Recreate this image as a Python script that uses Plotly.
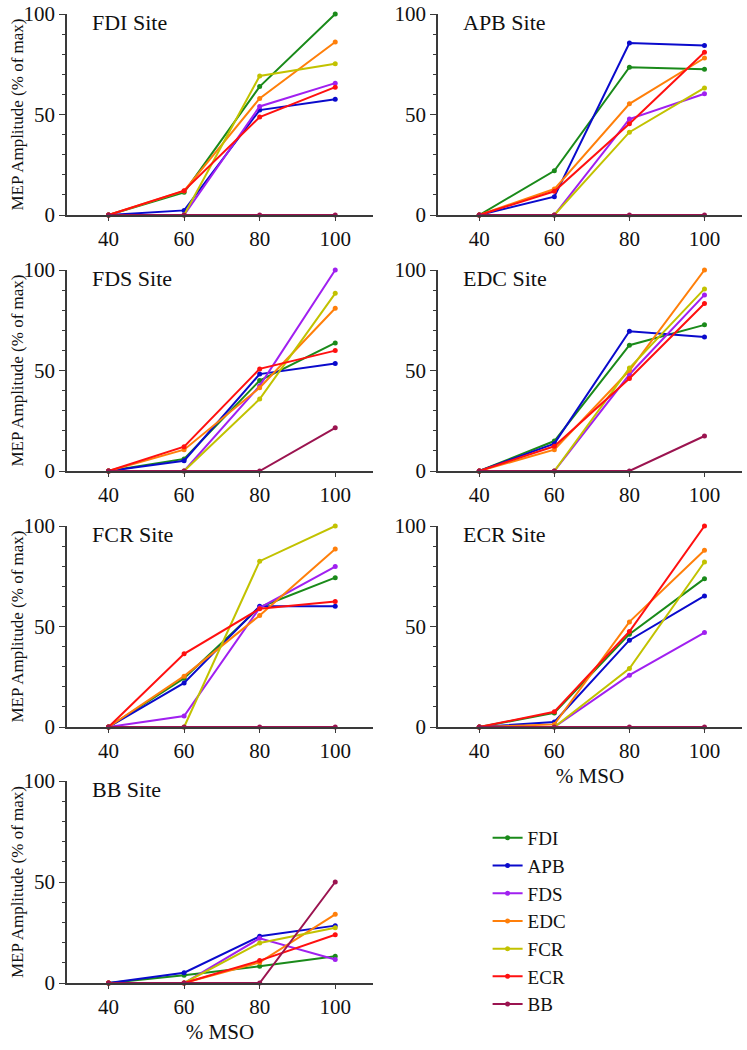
import plotly.graph_objects as go
from plotly.subplots import make_subplots

MSO = [40, 60, 80, 100]
MUSCLES = ["FDI", "APB", "FDS", "EDC", "FCR", "ECR", "BB"]
COLORS = {
    "FDI": "#1a8a1a",
    "APB": "#0a0acc",
    "FDS": "#a020f0",
    "EDC": "#ff7f0a",
    "FCR": "#c2c200",
    "ECR": "#ff1010",
    "BB": "#9b1450",
}

# MEP amplitude (% of max) per stimulation site, one list per recorded muscle
fdi_site = {
    "FDI": [0, 11.3, 63.9, 100],
    "APB": [0, 2.3, 52.2, 57.6],
    "FDS": [0, 0, 54.0, 65.6],
    "EDC": [0, 12.0, 58.0, 86.1],
    "FCR": [0, 0, 69.2, 75.2],
    "ECR": [0, 12.1, 48.7, 63.6],
    "BB": [0, 0, 0, 0],
}
apb_site = {
    "FDI": [0, 22.0, 73.5, 72.5],
    "APB": [0, 9.1, 85.6, 84.3],
    "FDS": [0, 0, 47.7, 60.3],
    "EDC": [0, 12.9, 55.3, 78.1],
    "FCR": [0, 0, 41.2, 63.2],
    "ECR": [0, 11.8, 45.4, 81.0],
    "BB": [0, 0, 0, 0],
}
fds_site = {
    "FDI": [0, 6.0, 45.0, 63.7],
    "APB": [0, 5.1, 48.2, 53.5],
    "FDS": [0, 0, 42.4, 100],
    "EDC": [0, 10.6, 41.4, 81.0],
    "FCR": [0, 0, 35.8, 88.4],
    "ECR": [0, 12.1, 50.8, 59.9],
    "BB": [0, 0, 0, 21.5],
}
edc_site = {
    "FDI": [0, 14.9, 62.6, 72.7],
    "APB": [0, 13.6, 69.5, 66.7],
    "FDS": [0, 0, 48.0, 87.6],
    "EDC": [0, 10.6, 50.0, 100],
    "FCR": [0, 0, 51.2, 90.6],
    "ECR": [0, 12.3, 46.0, 83.3],
    "BB": [0, 0, 0, 17.4],
}
fcr_site = {
    "FDI": [0, 24.3, 59.6, 74.3],
    "APB": [0, 21.9, 60.1, 60.1],
    "FDS": [0, 5.5, 59.3, 79.8],
    "EDC": [0, 25.3, 55.5, 88.6],
    "FCR": [0, 0, 82.5, 100],
    "ECR": [0, 36.4, 58.8, 62.4],
    "BB": [0, 0, 0, 0],
}
ecr_site = {
    "FDI": [0, 7.0, 46.2, 73.8],
    "APB": [0, 2.5, 43.2, 65.2],
    "FDS": [0, 0, 25.8, 47.0],
    "EDC": [0, 1.3, 52.3, 87.9],
    "FCR": [0, 0, 29.1, 82.1],
    "ECR": [0, 7.6, 47.5, 100],
    "BB": [0, 0, 0, 0],
}
bb_site = {
    "FDI": [0, 3.8, 8.3, 13.2],
    "APB": [0, 5.1, 23.1, 28.4],
    "FDS": [0, 0, 22.1, 11.6],
    "EDC": [0, 0, 10.2, 34.0],
    "FCR": [0, 0, 19.8, 27.4],
    "ECR": [0, 0, 11.1, 23.9],
    "BB": [0, 0, 0, 50.0],
}

SITES = [
    ("FDI Site", fdi_site),
    ("APB Site", apb_site),
    ("FDS Site", fds_site),
    ("EDC Site", edc_site),
    ("FCR Site", fcr_site),
    ("ECR Site", ecr_site),
    ("BB Site", bb_site),
]

FONT = "Liberation Serif, Times New Roman, serif"
W, H = 747, 1050


def px_x(p):
    return p / W


def px_y(p):
    return 1 - p / H


# panel boxes in pixels (left, right) / (top, bottom)
COL_PX = [(67, 373), (438, 742)]
ROW_PX = [(14, 215), (270, 471), (526, 727), (781, 983)]

fig = make_subplots(
    rows=4,
    cols=2,
    specs=[[{}, {}], [{}, {}], [{}, {}], [{}, None]],
)

for i, (site_name, site) in enumerate(SITES):
    row, col = i // 2 + 1, i % 2 + 1
    for muscle in MUSCLES:
        fig.add_trace(
            go.Scatter(
                x=MSO,
                y=site[muscle],
                mode="lines+markers",
                name=muscle,
                line=dict(color=COLORS[muscle], width=2),
                marker=dict(color=COLORS[muscle], size=5),
                cliponaxis=False,
                showlegend=(i == 0),
            ),
            row=row,
            col=col,
        )

    x0, x1 = COL_PX[col - 1]
    y0, y1 = ROW_PX[row - 1]
    show_xtitle = site_name in ("ECR Site", "BB Site")
    fig.update_xaxes(
        domain=[px_x(x0), px_x(x1)],
        range=[29, 110],
        automargin=False,
        tickvals=MSO,
        ticks="outside",
        ticklen=4,
        tickwidth=1.2,
        tickcolor="#3a3a3a",
        showline=True,
        linecolor="#3a3a3a",
        linewidth=1.5,
        showgrid=False,
        zeroline=False,
        tickfont=dict(family=FONT, size=21, color="#111"),
        title=dict(
            text="% MSO" if show_xtitle else "",
            font=dict(family=FONT, size=21, color="#111"),
            standoff=6,
        ),
        row=row,
        col=col,
    )
    fig.update_yaxes(
        domain=[px_y(y1), px_y(y0)],
        range=[0, 100],
        automargin=False,
        tickvals=[0, 50, 100],
        ticks="outside",
        ticklen=6,
        tickwidth=1.2,
        tickcolor="#3a3a3a",
        minor=dict(dtick=10, ticks="outside", ticklen=3, tickwidth=1, tickcolor="#3a3a3a"),
        showline=True,
        linecolor="#3a3a3a",
        linewidth=1.5,
        showgrid=False,
        zeroline=False,
        tickfont=dict(family=FONT, size=21, color="#111"),
        row=row,
        col=col,
    )
    fig.add_annotation(
        text=site_name,
        xref="x domain" if i == 0 else f"x{i + 1} domain",
        yref="y domain" if i == 0 else f"y{i + 1} domain",
        x=0.075,
        y=0.96,
        xanchor="left",
        yanchor="middle",
        showarrow=False,
        font=dict(family=FONT, size=22, color="#111"),
    )
    if col == 1:
        fig.add_annotation(
            text="MEP Amplitude (% of max)",
            xref="paper",
            yref="paper",
            x=px_x(17),
            y=px_y((y0 + y1) / 2),
            xanchor="center",
            yanchor="middle",
            textangle=-90,
            showarrow=False,
            font=dict(family=FONT, size=17, color="#111"),
        )

fig.update_layout(
    width=W,
    height=H,
    margin=dict(l=0, r=0, t=0, b=0),
    plot_bgcolor="white",
    paper_bgcolor="white",
    font=dict(family=FONT, color="#111"),
    legend=dict(
        x=px_x(487.6),
        y=px_y(819),
        xanchor="left",
        yanchor="top",
        font=dict(family=FONT, size=19, color="#111"),
        itemwidth=30,
        bgcolor="rgba(0,0,0,0)",
    ),
)

# drop the default body margin so the figure sits at the window's corner
fig.write_html(
    "out.html",
    config={"displayModeBar": False},
    post_script="document.body.style.margin = '0';",
)
